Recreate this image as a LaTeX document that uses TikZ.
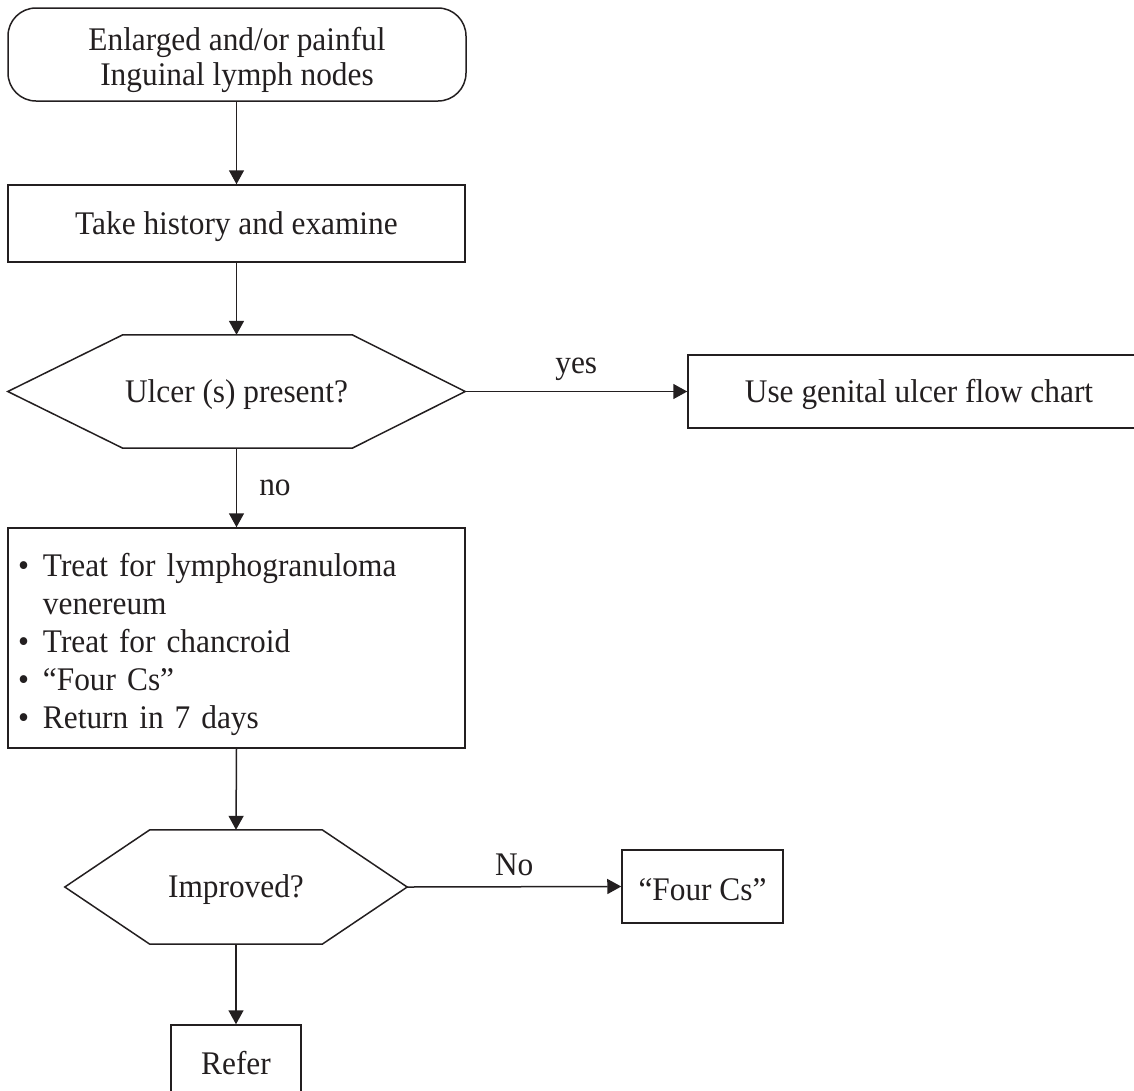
\documentclass[tikz,border=0pt]{standalone}
\usepackage{fontspec}
\setmainfont{Liberation Serif}[FakeStretch=0.95]
\usetikzlibrary{arrows.meta,calc}
\definecolor{ink}{HTML}{231F20}
\newcommand{\down}[2]{\raisebox{-#1}[\height][\depth]{#2}}
\tikzset{
  every node/.style={font=\fontsize{33}{38}\selectfont, text=ink},
  boxnode/.style={draw=ink, line width=1.5pt, rectangle, inner sep=0pt},
  hexhold/.style={rectangle, inner sep=0pt},
  hexline/.style={draw=ink, line width=1.5pt, line join=miter},
  conn/.style={draw=ink, line width=1.5pt, -{Triangle[length=14pt,width=15pt]}},
  lbl/.style={inner sep=0pt}
}
\begin{document}
\begin{tikzpicture}[x=1pt,y=-1pt]
\useasboundingbox (0,0) rectangle (1134,1090);
\clip (0,0) rectangle (1134,1090);

% start
\node[boxnode, rounded corners=28pt, minimum width=458pt, minimum height=93pt, align=center, font=\fontsize{33}{35}\selectfont] (start) at (237,54.5) {\down{6pt}{\begin{tabular}{@{}c@{}}Enlarged and/or painful\\Inguinal lymph nodes\end{tabular}}};

% history
\node[boxnode, minimum width=457pt, minimum height=77pt] (hist) at (236.5,223.5) {\down{3pt}{Take history and examine}};

% ulcer hexagon
\node[hexhold, minimum width=457pt, minimum height=113pt] (ulcer) at (236.5,391.5) {\down{3pt}{Ulcer (s) present?}};
\path[hexline] (ulcer.west) -- ($(ulcer.north west)+(115,0)$) -- ($(ulcer.north east)+(-113,0)$) -- (ulcer.east) -- ($(ulcer.south east)+(-113,0)$) -- ($(ulcer.south west)+(115,0)$) -- cycle;

% genital ulcer box
\node[boxnode, minimum width=462pt, minimum height=73pt] (genital) at (919,391.5) {\down{3pt}{Use genital ulcer flow chart}};

% treatment box
\node[boxnode, minimum width=457pt, minimum height=220pt, text width=437pt, inner xsep=10pt, align=left] (treat) at (236.5,638)
{\down{7pt}{\begin{tabular}{@{}l@{\hspace{14pt}}l@{}}
\textbullet & Treat for lymphogranuloma\\
 & venereum\\
\textbullet & Treat for chancroid\\
\textbullet & “Four Cs”\\
\textbullet & Return in 7 days
\end{tabular}}};

% improved hexagon
\node[hexhold, minimum width=342pt, minimum height=114pt] (imp) at (236,887) {\down{3pt}{Improved?}};
\path[hexline] (imp.west) -- ($(imp.north west)+(85,0)$) -- ($(imp.north east)+(-85,0)$) -- (imp.east) -- ($(imp.south east)+(-85,0)$) -- ($(imp.south west)+(85,0)$) -- cycle;

% four Cs box
\node[boxnode, minimum width=161pt, minimum height=73pt] (four) at (702.5,886.5) {\down{3pt}{“Four Cs”}};

% refer box
\node[boxnode, minimum width=130pt, minimum height=76pt] (refer) at (236,1063) {Refer};

% connectors
\draw[conn] (start.south -| hist.north) -- (hist.north);
\draw[conn] (hist.south) -- (ulcer.north);
\draw[conn] (ulcer.east) -- (genital.west) node[lbl, midway, above=10pt] {yes};
\draw[conn] (ulcer.south) -- (treat.north) node[lbl, midway, right=22pt] {no};
\draw[conn] (treat.south) -- (imp.north);
\draw[conn] (imp.east) -- (four.west) node[lbl, midway, above=10pt] {No};
\draw[conn] (imp.south) -- (refer.north);
\end{tikzpicture}
\end{document}
